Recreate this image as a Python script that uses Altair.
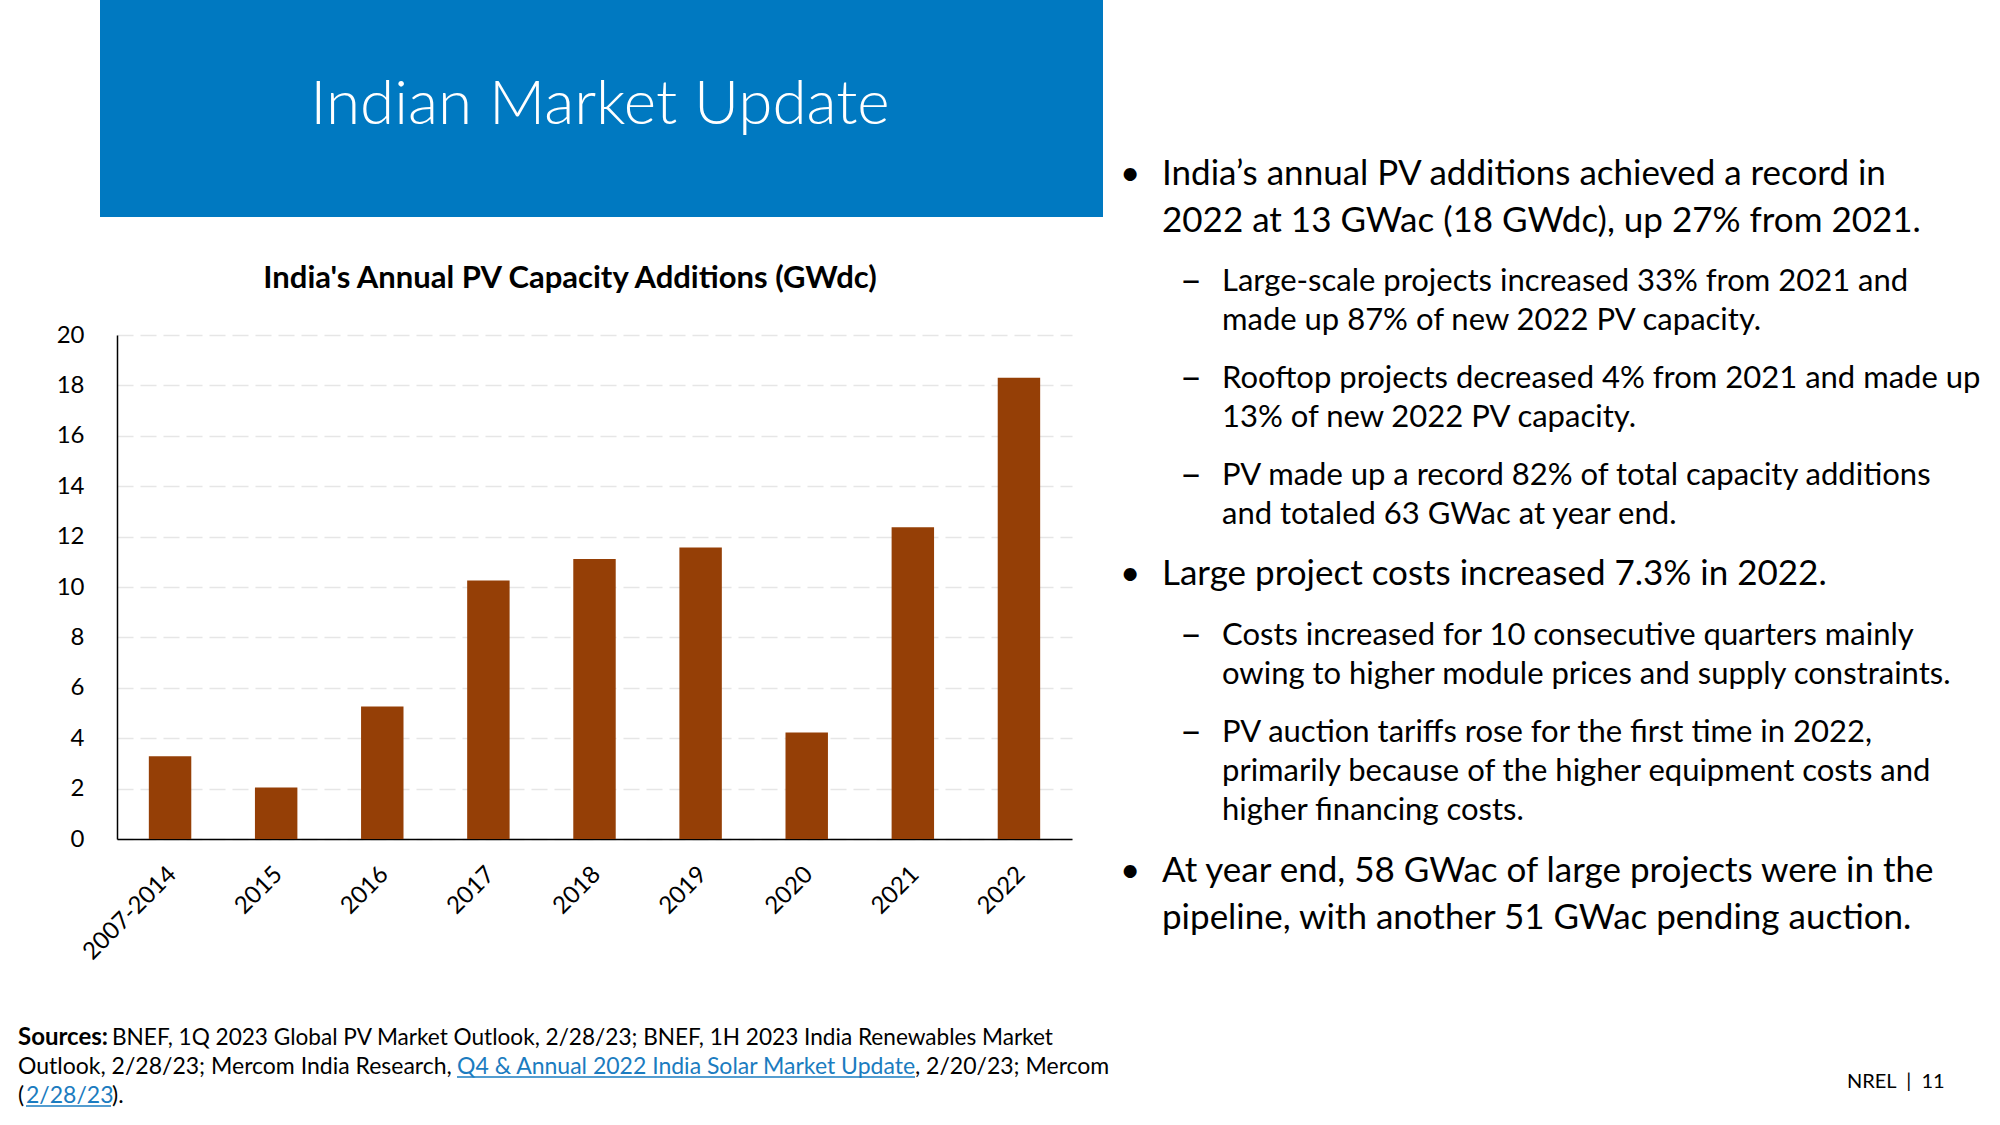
import altair as alt
import pandas as pd

# ---------------- data ----------------
categories = ["2007-2014", "2015", "2016", "2017", "2018", "2019", "2020", "2021", "2022"]
values = [3.28, 2.04, 5.26, 10.26, 11.11, 11.57, 4.23, 12.37, 18.30]
y_ticks = [0, 2, 4, 6, 8, 10, 12, 14, 16, 18, 20]

slide_title = "Indian Market Update"
chart_title = "India's Annual PV Capacity Additions (GWdc)"

bullet1 = ["India\u2019s annual PV additions achieved a record in",
           "2022 at 13 GWac (18 GWdc), up 27% from 2021."]
sub1 = ["Large-scale projects increased 33% from 2021 and",
        "made up 87% of new 2022 PV capacity."]
sub2 = ["Rooftop projects decreased 4% from 2021 and made up",
        "13% of new 2022 PV capacity."]
sub3 = ["PV made up a record 82% of total capacity additions",
        "and totaled 63 GWac at year end."]
bullet2 = ["Large project costs increased 7.3% in 2022."]
sub4 = ["Costs increased for 10 consecutive quarters mainly",
        "owing to higher module prices and supply constraints."]
sub5 = ["PV auction tariffs rose for the first time in 2022,",
        "primarily because of the higher equipment costs and",
        "higher financing costs."]
bullet3 = ["At year end, 58 GWac of large projects were in the",
           "pipeline, with another 51 GWac pending auction."]

src_bold = "Sources:"
src_l1 = "BNEF, 1Q 2023 Global PV Market Outlook, 2/28/23; BNEF, 1H 2023 India Renewables Market"
src_l2a = "Outlook, 2/28/23; Mercom India Research,"
src_link1 = "Q4 & Annual 2022 India Solar Market Update"
src_l2c = ", 2/20/23; Mercom"
src_l3a = "("
src_link2 = "2/28/23"
src_l3c = ")."
footer = "NREL\u00a0\u00a0|\u00a0\u00a011"

# ---------------- layout / style ----------------
FONT = "Lato"
OX, OY, W, H = 117, 335, 955, 504
BAR = "#953F06"
BLUE = "#0079C1"
LINK = "#1B7CC0"
BFS = 35   # bullet font size
SFS = 31   # sub-bullet font size
DFS = 38   # dash font size
CFS = 23   # sources font size


def px(x):
    return x - OX


def py(y):
    return y - OY


def one():
    return alt.Data(values=[{"k": 0}])


def txt(lines, x, y, size, weight="normal", color="black", align="left", lh=None):
    kw = dict(text=lines, align=align, baseline="alphabetic", fontSize=size,
              fontWeight=weight, color=color, font=FONT)
    if lh is not None:
        kw["lineHeight"] = lh
    return alt.Chart(one()).mark_text(**kw).encode(x=alt.value(px(x)), y=alt.value(py(y)))


def rule(x1, x2, y, color, w=1.5):
    return alt.Chart(one()).mark_rule(color=color, strokeWidth=w).encode(
        x=alt.value(px(x1)), x2=alt.value(px(x2)), y=alt.value(py(y)))


df = pd.DataFrame({"cat": categories, "val": values})

bars = alt.Chart(df).mark_bar(color=BAR).encode(
    x=alt.X("cat:N", sort=categories,
            scale=alt.Scale(paddingInner=0.6, paddingOuter=0.3),
            axis=alt.Axis(title=None, labelAngle=-45, labelFont=FONT, labelFontSize=24,
                          labelColor="black", ticks=False, tickSize=0, labelPadding=23,
                          labelOffset=-6,
                          domainColor="black", domainWidth=1.5, grid=False)),
    y=alt.Y("val:Q", scale=alt.Scale(domain=[0, 20], nice=False, zero=True),
            axis=alt.Axis(title=None, values=y_ticks, labelFont=FONT, labelFontSize=24,
                          labelColor="black", ticks=False, tickSize=0, labelPadding=33,
                          domainColor="black", domainWidth=1.5,
                          grid=True, gridColor="#E6E6E6", gridWidth=1.5, gridDash=[16, 7])),
)

header = alt.Chart(one()).mark_rect(color=BLUE).encode(
    x=alt.value(px(100)), x2=alt.value(px(1103)), y=alt.value(py(0)), y2=alt.value(py(217)))

layers = [
    header,
    bars,
    txt(slide_title, 600, 124, 62, weight=300, color="white", align="center"),
    txt(chart_title, 570, 288, 31, weight="bold", align="center"),
    # bullets
    txt("\u2022", 1120, 185, BFS),
    txt(bullet1, 1162, 185, BFS, lh=47),
    txt("\u2013", 1180, 293, DFS),
    txt(sub1, 1222, 291, SFS, lh=39),
    txt("\u2013", 1180, 390, DFS),
    txt(sub2, 1222, 388, SFS, lh=39),
    txt("\u2013", 1180, 487, DFS),
    txt(sub3, 1222, 485, SFS, lh=39),
    txt("\u2022", 1120, 585, BFS),
    txt(bullet2, 1162, 585, BFS, lh=47),
    txt("\u2013", 1180, 647, DFS),
    txt(sub4, 1222, 645, SFS, lh=39),
    txt("\u2013", 1180, 744, DFS),
    txt(sub5, 1222, 742, SFS, lh=39),
    txt("\u2022", 1120, 882, BFS),
    txt(bullet3, 1162, 882, BFS, lh=47),
    # sources
    txt(src_bold, 18, 1045, 24, weight="bold"),
    txt(src_l1, 112, 1045, 22.6),
    txt(src_l2a, 18, 1074, CFS),
    txt(src_link1, 457, 1074, CFS, color=LINK),
    rule(457, 915, 1077, LINK),
    txt(src_l2c, 915, 1074, CFS),
    txt(src_l3a, 18, 1103, CFS),
    txt(src_link2, 26, 1103, CFS, color=LINK),
    rule(26, 111, 1106, LINK),
    txt(src_l3c, 112, 1103, CFS),
    txt(footer, 1847, 1088, 20),
]

chart = alt.layer(*layers).properties(
    width=W, height=H,
    autosize=alt.AutoSizeParams(type="none"),
    padding={"left": OX, "top": OY, "right": 2000 - OX - W, "bottom": 1125 - OY - H},
    background="white",
).configure_view(strokeWidth=0)

chart.save("out.html", embed_options={"renderer": "svg", "actions": False})
